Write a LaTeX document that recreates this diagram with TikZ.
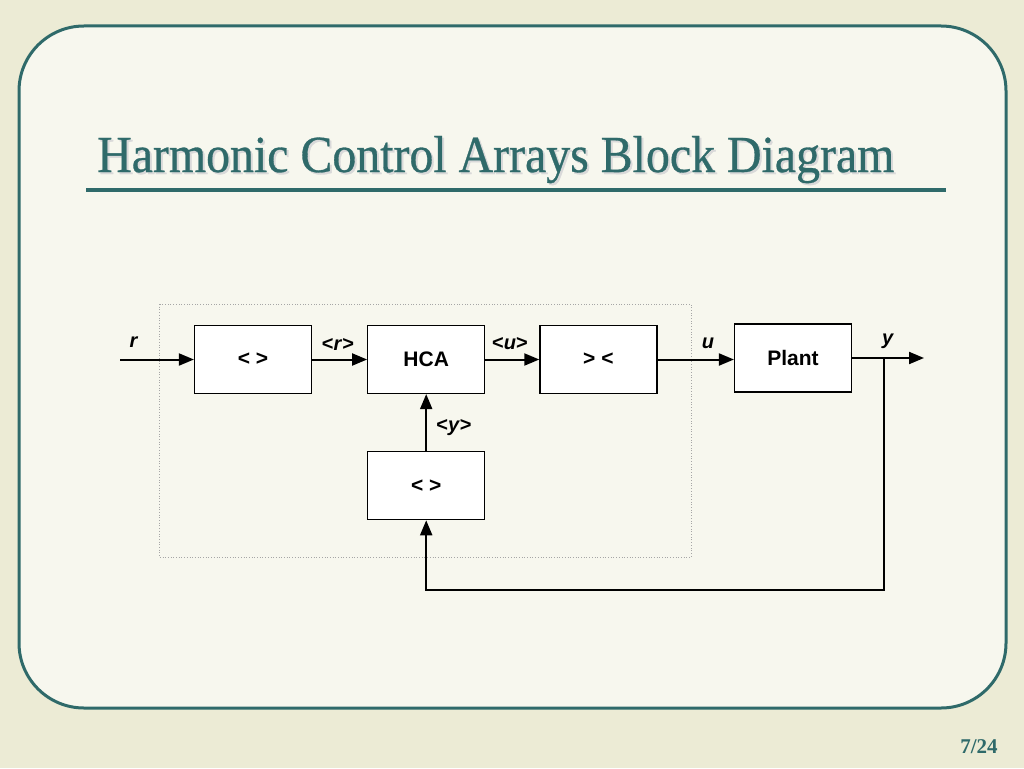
\documentclass[tikz,border=0pt]{standalone}
\usepackage{fontspec}
\setmainfont{Liberation Serif}
\setsansfont{Liberation Sans}
\newfontfamily\titlefont[FakeStretch=0.92,FakeBold=0.6]{Liberation Serif}
\usetikzlibrary{arrows.meta,positioning}
\definecolor{pagebg}{HTML}{ECEBD5}
\definecolor{slidebg}{HTML}{F7F7EE}
\definecolor{slideteal}{HTML}{2F6A6A}
\begin{document}
\begin{tikzpicture}[x=1pt,y=-1pt,
          every node/.style={font=\sffamily\bfseries\fontsize{21}{21}\selectfont},
          block/.style={draw, fill=white, line width=1.2pt, minimum width=117pt, minimum height=68pt, inner sep=0pt},
          sig/.style={line width=2pt, -{Triangle[length=15pt,width=12pt]}},
          lbl/.style={font=\sffamily\bfseries\fontsize{20}{20}\selectfont, inner sep=0pt},
          >=stealth
        ]
        % slide background
        \fill[pagebg] (0,0) rectangle (1024,768);
        \draw[slideteal, line width=3pt, fill=slidebg, rounded corners=65pt] (19,26) rectangle (1006,708);
        \node[anchor=base west, inner sep=0pt, text=black!15, font=\titlefont\fontsize{52}{52}\selectfont] at (99,174) {Harmonic Control Arrays Block Diagram};
        \node[anchor=base west, inner sep=0pt, text=slideteal, font=\titlefont\fontsize{52}{52}\selectfont] (title) at (97,172) {Harmonic Control Arrays Block Diagram};
        \draw[slideteal, line width=4pt] (86,190) -- (946,190);
        \node[text=slideteal, font=\rmfamily\bfseries\fontsize{21}{21}\selectfont] (pagenum) at (979,747) {7/24};

        % controller boundary
        \draw[gray!70, dotted, line width=0.7pt] (159,304) rectangle (691,557);

        \node[block] (avgr) at (253,359.5) {< >};
        \node[block, right=55pt of avgr] (hca) {HCA};
        \node[block, right=54pt of hca] (synth) {> <};
        \node[block] (plant) at (793,358) {Plant};
        \node[block, below=57pt of hca] (avgy) {< >};

        \coordinate (in) at (120,359.5);
        \coordinate (out) at (924,358);
        \coordinate (tap) at (884,358);
        \coordinate (low) at (884,590);

        \draw[sig] (in) -- (avgr);
        \draw[sig] (avgr) -- (hca);
        \draw[sig] (hca) -- (synth);
        \draw[sig] (synth.east) -- (plant.west |- synth.east);
        \draw[sig] (plant) -- (out);
        \draw[sig] (avgy) -- (hca);
        \draw[sig] (tap) -- (low) -| (avgy.south);

        % signal labels
        \node[lbl] (lr) at (134,342) {\textit{r}};
        \node[lbl] (lavgr) at (338,344) {<\textit{r}>};
        \node[lbl] (lavgu) at (510,344) {<\textit{u}>};
        \node[lbl] (lu) at (708,343) {\textit{u}};
        \node[lbl] (ly) at (888,341) {\textit{y}};
        \node[lbl] (lavgy) at (454,428) {<\textit{y}>};
\end{tikzpicture}
\end{document}
